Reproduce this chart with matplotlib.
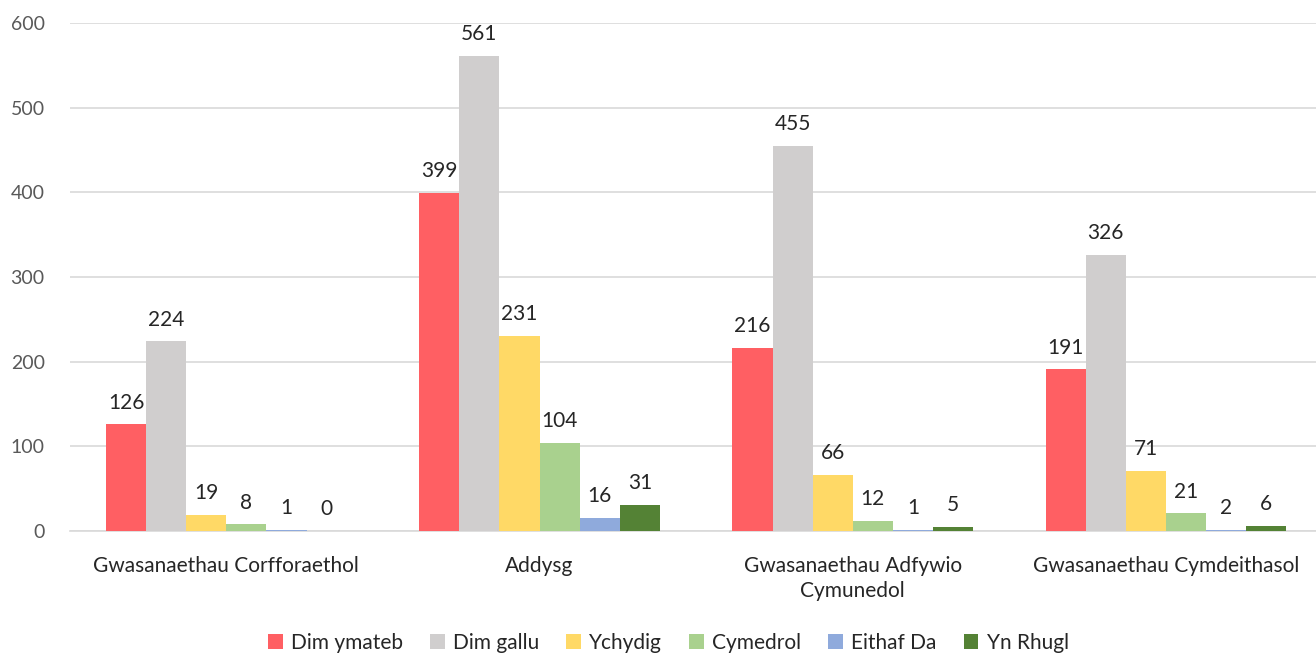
import numpy as np
import matplotlib.pyplot as plt

categories = ["Gwasanaethau Corfforaethol", "Addysg",
              "Gwasanaethau Adfywio\nCymunedol", "Gwasanaethau Cymdeithasol"]
series_names = ["Dim ymateb", "Dim gallu", "Ychydig", "Cymedrol", "Eithaf Da", "Yn Rhugl"]
dim_ymateb = [126, 399, 216, 191]
dim_gallu = [224, 561, 455, 326]
ychydig = [19, 231, 66, 71]
cymedrol = [8, 104, 12, 21]
eithaf_da = [1, 16, 1, 2]
yn_rhugl = [0, 31, 5, 6]
colors = ["#FF5F63", "#D0CECE", "#FFD966", "#A9D18E", "#8FAADC", "#548235"]

plt.rcParams['font.family'] = ['Lato', 'DejaVu Sans']

fig = plt.figure(figsize=(13.16, 6.55), dpi=100)
ax = fig.add_axes([0.053, 0.189, 0.952, 0.776])

data = [dim_ymateb, dim_gallu, ychydig, cymedrol, eithaf_da, yn_rhugl]
x = np.arange(len(categories))
w = 0.128
for i, (name, vals) in enumerate(zip(series_names, data)):
    pos = x + (i - 2.5) * w
    ax.bar(pos, vals, width=w, color=colors[i], label=name, zorder=3)
    for xb, v in zip(pos, vals):
        ax.text(xb, v + 14, str(v), ha='center', va='bottom', fontsize=15, color='#262626')

ax.set_xlim(-0.5, 3.5)
ax.set_ylim(0, 600)
ax.set_yticks(range(0, 601, 100))
ax.yaxis.grid(True, color='#D9D9D9', linewidth=1.2, zorder=0)
for s in ['top', 'right', 'left']:
    ax.spines[s].set_visible(False)
ax.spines['bottom'].set_color('#D9D9D9')
ax.spines['bottom'].set_linewidth(1.2)
ax.tick_params(axis='both', length=0, labelsize=14, colors='#595959')
ax.tick_params(axis='x', colors='#262626', labelsize=15, pad=18)
ax.tick_params(axis='y', pad=18)
ax.set_xticks(x)
ax.set_xticklabels(categories, linespacing=1.3)

fig.legend(loc='lower center', bbox_to_anchor=(0.508, -0.025), ncol=6, frameon=False,
           fontsize=15, handlelength=0.7, handleheight=0.7, handletextpad=0.4,
           columnspacing=1.3, labelcolor='#262626')

fig.savefig('out.png', dpi=100)
